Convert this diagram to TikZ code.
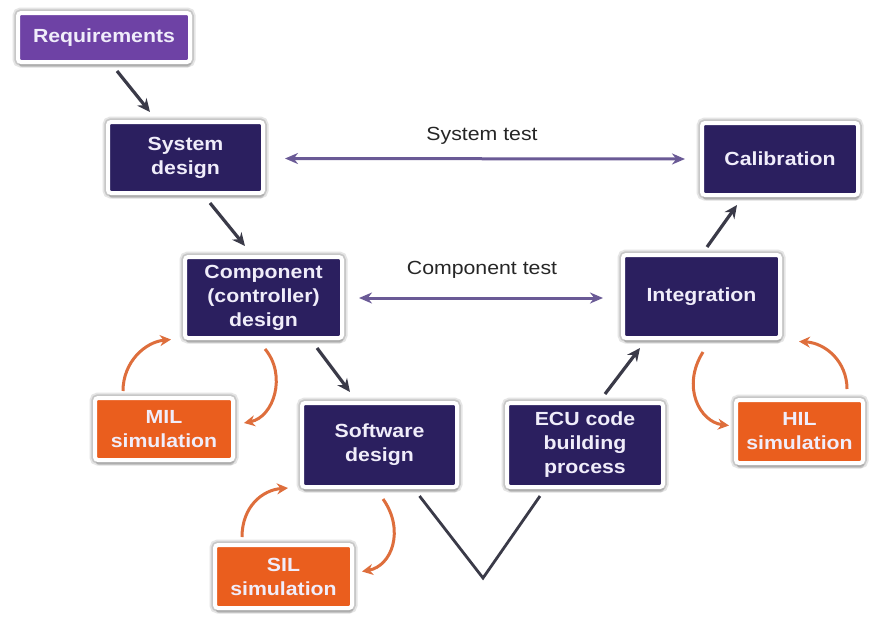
\documentclass[tikz,border=0pt]{standalone}
\usepackage{fontspec}
\setmainfont[FakeStretch=1.12]{Liberation Sans}
\usetikzlibrary{arrows.meta,calc,shadows}

\definecolor{navy}{RGB}{43,31,95}
\definecolor{reqpurple}{RGB}{110,66,165}
\definecolor{simorange}{RGB}{234,94,30}
\definecolor{boxtext}{RGB}{240,237,250}
\definecolor{flowgray}{RGB}{58,58,72}
\definecolor{testline}{RGB}{106,90,150}
\definecolor{looporange}{RGB}{222,110,60}

\tikzset{
  box/.style={draw=white, line width=4pt, rounded corners=3pt,
    text=boxtext, align=center, inner sep=2pt,
    font=\fontsize{19}{24}\selectfont\bfseries,
    preaction={draw=black!10, line width=11pt},
    preaction={draw=black!22, line width=7.5pt},
    drop shadow={shadow xshift=1pt, shadow yshift=-5pt, opacity=.25, fill=black!60}},
  stage/.style={box, fill=navy},
  reqbox/.style={box, fill=reqpurple},
  simbox/.style={box, fill=simorange},
  flow/.style={draw=flowgray, line width=3.2pt, -{Stealth[length=13pt,width=12pt]}},
  vline/.style={draw=flowgray, line width=2.8pt},
  testarrow/.style={draw=testline, line width=3pt,
    {Stealth[length=13pt,width=11pt]}-{Stealth[length=13pt,width=11pt]}},
  loop/.style={draw=looporange, line width=3pt, -{Stealth[length=11pt,width=11pt]}},
  testlabel/.style={font=\fontsize{19}{22}\selectfont, text=black!85}
}

\begin{document}
\begin{tikzpicture}[x=1pt, y=-1pt]
\useasboundingbox[fill=white] (0,0) rectangle (874,616);

% V-model stages
\node[reqbox, minimum width=172pt, minimum height=49pt] (req) at (104,37.5) {Requirements};
\node[stage, minimum width=155pt, minimum height=71pt] (sys) at (185.5,157.5) {System\\design};
\node[stage, minimum width=156pt, minimum height=72pt] (cal) at (780,159) {Calibration};
\node[stage, minimum width=157pt, minimum height=81pt] (comp) at (263.5,297.5) {Component\\(controller)\\design};
\node[stage, minimum width=157pt, minimum height=83pt] (int) at (701.5,296.5) {Integration};
\node[stage, minimum width=155pt, minimum height=84pt] (sw) at (379.5,445) {Software\\design};
\node[stage, minimum width=156pt, minimum height=84pt] (ecu) at (585,445) {ECU code\\building\\process};

% simulation loops
\node[simbox, minimum width=138pt, minimum height=62pt] (mil) at (164,429) {MIL\\simulation};
\node[simbox, minimum width=137pt, minimum height=63pt] (sil) at (283.5,576.5) {SIL\\simulation};
\node[simbox, minimum width=127pt, minimum height=63pt] (hil) at (799.5,431.5) {HIL\\simulation};

% bottom of the V
\coordinate (vtip) at (483,578);
\draw[vline] ($(sw.south)+(40,7)$) -- (vtip) -- ($(ecu.south)+(-45,7)$);

% left branch going down, right branch going up
\draw[flow] ($(req.south)+(13,7)$) -- ($(sys.north)+(-35.5,-8)$);
\draw[flow] ($(sys.south)+(24.5,8)$) -- ($(comp.north)+(-18.5,-9)$);
\draw[flow] ($(comp.south)+(53.5,8)$) -- ($(sw.north)+(-29.5,-9)$);
\draw[flow] ($(ecu.north)+(20,-7)$) -- ($(int.south)+(-61.5,8)$);
\draw[flow] ($(int.north)+(5.5,-6)$) -- ($(cal.south)+(-43,8)$);

% test links across the V
\draw[testarrow] ($(sys.east)+(20,1)$) -- ($(cal.west)+(-15,0)$);
\node[testlabel] (systest) at (482,136) {System test};
\draw[testarrow] ($(comp.east)+(15,0.5)$) -- ($(int.west)+(-18,1.5)$);
\node[testlabel] (comptest) at (482,270) {Component test};

% MIL loop
\draw[loop] ($(mil.north)+(-41,-5)$) .. controls (123,362) and (145,342) .. ($(comp.west)+(-12,42)$);
\draw[loop] ($(comp.south)+(1.5,9)$) .. controls (287,375) and (274,417) .. ($(mil.east)+(9,-6)$);

% SIL loop
\draw[loop] ($(sil.north)+(-41.5,-6)$) .. controls (242,507) and (262,490) .. ($(sw.west)+(-12,43)$);
\draw[loop] ($(sw.south)+(3.5,10)$) .. controls (405,530) and (392,566) .. ($(sil.east)+(8,-5)$);

% HIL loop
\draw[loop] ($(int.south)+(1.5,12)$) .. controls (681,387) and (700,422) .. ($(hil.west)+(-5,-6)$);
\draw[loop] ($(hil.north)+(47.5,-9)$) .. controls (847,362) and (826,343) .. ($(int.east)+(17,45)$);

\end{tikzpicture}
\end{document}
